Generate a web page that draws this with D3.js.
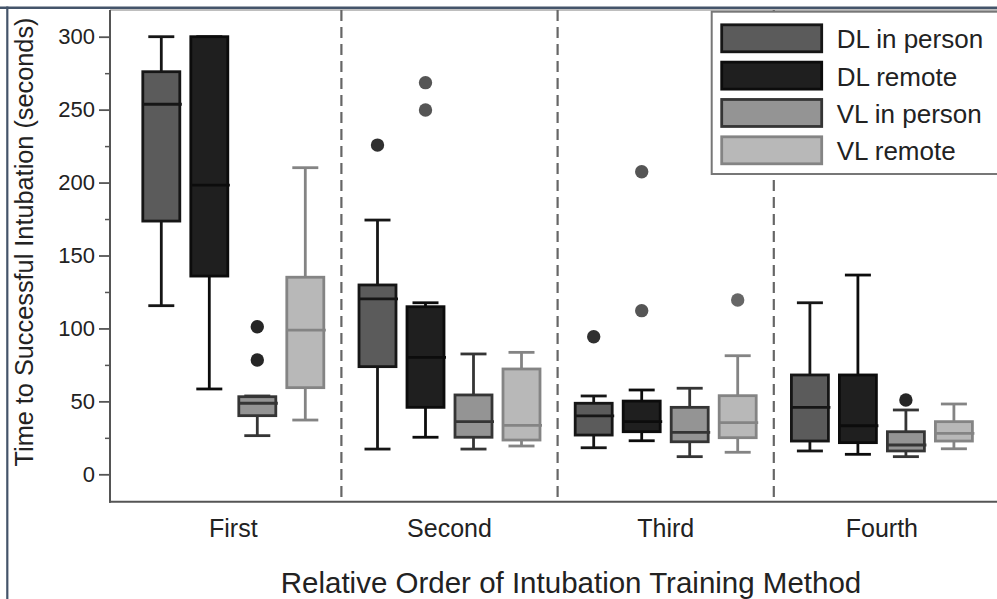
<!DOCTYPE html>
<html>
<head>
<meta charset="utf-8">
<script src="https://cdn.jsdelivr.net/npm/d3@7"></script>
<style>
  html, body { margin: 0; padding: 0; background: #ffffff; }
  svg { display: block; font-family: "Liberation Sans", Arial, Helvetica, sans-serif; }
</style>
</head>
<body>
<svg id="chart" width="997" height="599"></svg>
<script>
// Order in which each training method was used
const categories = ["First", "Second", "Third", "Fourth"];
// Laryngoscopy method and delivery of instruction
const series = ["DL in person", "DL remote", "VL in person", "VL remote"];

// Box-plot statistics (seconds); rows follow `series`, columns follow `categories`
const whiskerLow = [
  [115.6, 17.3, 18.2, 16.0],
  [58.5, 25.4, 23.0, 13.7],
  [26.5, 17.3, 12.1, 12.1],
  [37.2, 19.4, 15.1, 17.5]
];
const quartile1 = [
  [173.6, 73.8, 26.9, 22.8],
  [135.9, 45.9, 29.2, 21.7],
  [40.2, 25.4, 22.3, 16.0],
  [59.4, 23.5, 25.1, 22.8]
];
const medians = [
  [253.7, 120.2, 40.0, 45.9],
  [198.3, 80.2, 36.1, 33.3],
  [48.7, 36.1, 28.8, 20.1],
  [98.9, 33.6, 35.4, 28.1]
];
const quartile3 = [
  [276.0, 129.8, 48.7, 68.1],
  [300.0, 114.9, 50.2, 68.1],
  [53.2, 54.4, 45.9, 29.2],
  [135.1, 72.2, 53.9, 36.1]
];
const whiskerHigh = [
  [300.0, 174.3, 53.7, 117.6],
  [300.0, 117.6, 57.8, 136.6],
  [53.7, 82.5, 59.0, 44.1],
  [210.2, 83.6, 81.3, 48.2]
];
// Outlying observations: [series, category, seconds]
const outliers = [
  ["VL in person", "First", 101.2],
  ["VL in person", "First", 78.4],
  ["DL in person", "Second", 225.7],
  ["DL remote", "Second", 268.5],
  ["DL remote", "Second", 249.7],
  ["DL in person", "Third", 94.3],
  ["DL remote", "Third", 207.4],
  ["DL remote", "Third", 112.2],
  ["VL remote", "Third", 119.5],
  ["VL in person", "Fourth", 50.9]
];

const yTicks = [0, 50, 100, 150, 200, 250, 300];
const yMinorTicks = [25, 75, 125, 175, 225, 275];

// Per-series styling
const fills = ["#5b5b5b", "#1f1f1f", "#949494", "#b8b8b8"];
const strokes = ["#161616", "#0c0c0c", "#353535", "#848484"];
const dotFills = ["#303030", "#555555", "#262626", "#666666"];

const svg = d3.select("#chart");
const W = 997, H = 599;
const plotLeft = 110, plotTop = 10, plotBottom = 501.7;

const x = d3.scaleBand().domain(categories).range([125.2, 990]).padding(0);
const xInner = d3.scalePoint().domain(series).range([-72, 72]);
const y = d3.scaleLinear().domain([0, 300]).range([474.3, 36.7]);

const boxW = 37, capW = 26, lw = 2.8;

// Page frame
svg.append("line").attr("x1", 0).attr("x2", W).attr("y1", 7.8).attr("y2", 7.8)
  .attr("stroke", "#44546a").attr("stroke-width", 2.6);
svg.append("line").attr("x1", 7.3).attr("x2", 7.3).attr("y1", 6.5).attr("y2", H)
  .attr("stroke", "#44546a").attr("stroke-width", 2.2);

// Plot top edge
svg.append("line").attr("x1", plotLeft).attr("x2", W).attr("y1", plotTop).attr("y2", plotTop)
  .attr("stroke", "#a8a8a8").attr("stroke-width", 1.5);

// Dashed separators between order groups
const seps = categories.slice(1).map(c => x(c));
svg.append("g").selectAll("line").data(seps).join("line")
  .attr("x1", d => d).attr("x2", d => d)
  .attr("y1", plotTop).attr("y2", plotBottom)
  .attr("stroke", "#666666").attr("stroke-width", 2.2)
  .attr("stroke-dasharray", "11,6");

// Boxes
const boxes = [];
series.forEach((s, si) => {
  categories.forEach((c, ci) => {
    boxes.push({
      s, si, c,
      lo: whiskerLow[si][ci], q1: quartile1[si][ci], med: medians[si][ci],
      q3: quartile3[si][ci], hi: whiskerHigh[si][ci]
    });
  });
});

const cx = d => x(d.c) + x.bandwidth() / 2 + xInner(d.s);

const gBox = svg.append("g");
const bg = gBox.selectAll("g").data(boxes).join("g");

// whisker stems
bg.append("line")
  .attr("x1", cx).attr("x2", cx)
  .attr("y1", d => y(d.hi)).attr("y2", d => y(d.q3))
  .attr("stroke", d => strokes[d.si]).attr("stroke-width", lw);
bg.append("line")
  .attr("x1", cx).attr("x2", cx)
  .attr("y1", d => y(d.q1)).attr("y2", d => y(d.lo))
  .attr("stroke", d => strokes[d.si]).attr("stroke-width", lw);
// whisker caps
bg.append("line")
  .attr("x1", d => cx(d) - capW / 2).attr("x2", d => cx(d) + capW / 2)
  .attr("y1", d => y(d.hi)).attr("y2", d => y(d.hi))
  .attr("stroke", d => strokes[d.si]).attr("stroke-width", lw);
bg.append("line")
  .attr("x1", d => cx(d) - capW / 2).attr("x2", d => cx(d) + capW / 2)
  .attr("y1", d => y(d.lo)).attr("y2", d => y(d.lo))
  .attr("stroke", d => strokes[d.si]).attr("stroke-width", lw);
// interquartile box
bg.append("rect")
  .attr("x", d => cx(d) - boxW / 2).attr("width", boxW)
  .attr("y", d => y(d.q3)).attr("height", d => y(d.q1) - y(d.q3))
  .attr("fill", d => fills[d.si])
  .attr("stroke", d => strokes[d.si]).attr("stroke-width", lw);
// median
bg.append("line")
  .attr("x1", d => cx(d) - boxW / 2).attr("x2", d => cx(d) + boxW / 2 + 2)
  .attr("y1", d => y(d.med)).attr("y2", d => y(d.med))
  .attr("stroke", d => strokes[d.si]).attr("stroke-width", lw);

// Outliers
svg.append("g").selectAll("circle").data(outliers).join("circle")
  .attr("cx", d => x(d[1]) + x.bandwidth() / 2 + xInner(d[0]))
  .attr("cy", d => y(d[2]))
  .attr("r", 6.7)
  .attr("fill", d => dotFills[series.indexOf(d[0])]);

// Axes
const axisColor = "#555555";
const yAxis = svg.append("g").attr("transform", `translate(${plotLeft},0)`)
  .call(d3.axisLeft(y).tickValues(yTicks).tickSize(11).tickPadding(4));
yAxis.select(".domain").remove();
yAxis.selectAll(".tick line").attr("stroke", axisColor).attr("stroke-width", 1.8);
yAxis.selectAll(".tick text")
  .attr("font-size", 22).attr("fill", "#222").attr("font-family", null);

const yMinor = svg.append("g").attr("transform", `translate(${plotLeft},0)`)
  .call(d3.axisLeft(y).tickValues(yMinorTicks).tickSize(5).tickFormat(""));
yMinor.select(".domain").remove();
yMinor.selectAll(".tick line").attr("stroke", axisColor).attr("stroke-width", 1.5);

svg.append("line").attr("x1", plotLeft).attr("x2", plotLeft)
  .attr("y1", plotTop).attr("y2", plotBottom + 1)
  .attr("stroke", axisColor).attr("stroke-width", 2);
svg.append("line").attr("x1", plotLeft - 1).attr("x2", W)
  .attr("y1", plotBottom).attr("y2", plotBottom)
  .attr("stroke", axisColor).attr("stroke-width", 2);

const xAxis = svg.append("g").attr("transform", `translate(0,${plotBottom})`)
  .call(d3.axisBottom(x).tickSize(0));
xAxis.select(".domain").remove();
xAxis.selectAll(".tick text")
  .attr("y", 35).attr("dy", null)
  .attr("font-size", 25).attr("fill", "#222").attr("font-family", null);

// Axis titles
svg.append("text")
  .attr("transform", "translate(24,242) rotate(-90)")
  .attr("text-anchor", "middle").attr("dominant-baseline", "central")
  .attr("font-size", 25.3).attr("fill", "#222")
  .text("Time to Successful Intubation (seconds)");
svg.append("text")
  .attr("x", 571).attr("y", 593)
  .attr("text-anchor", "middle")
  .attr("font-size", 29.5).attr("fill", "#222")
  .text("Relative Order of Intubation Training Method");

// Legend
const legend = svg.append("g");
legend.append("rect")
  .attr("x", 711.7).attr("y", 11.7).attr("width", 300).attr("height", 162.3)
  .attr("fill", "#ffffff").attr("stroke", "#777").attr("stroke-width", 2);
const rowY = d3.scalePoint().domain(series).range([38.3, 150.3]);
const li = legend.selectAll("g.item").data(series).join("g").attr("class", "item");
li.append("rect")
  .attr("x", 721.7).attr("width", 100)
  .attr("y", d => rowY(d) - 13.5).attr("height", 27)
  .attr("fill", (d, i) => fills[i])
  .attr("stroke", (d, i) => strokes[i]).attr("stroke-width", lw);
li.append("text")
  .attr("x", 836.7).attr("y", d => rowY(d) + 10)
  .attr("font-size", 26).attr("fill", "#222")
  .text(d => d);
</script>
</body>
</html>
